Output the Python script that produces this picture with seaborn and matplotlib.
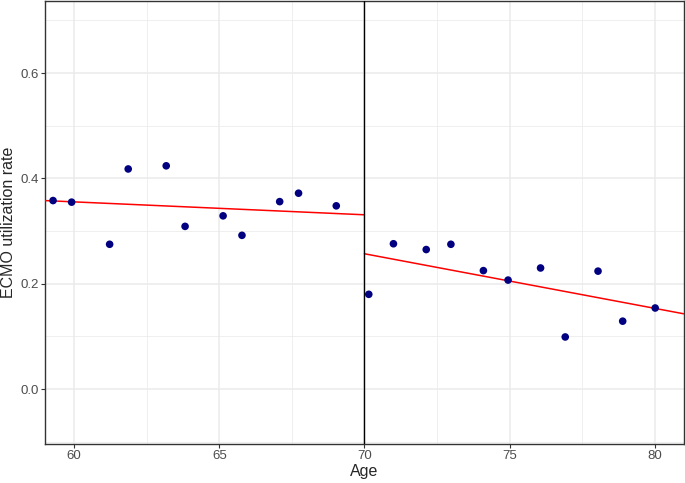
import numpy as np
import pandas as pd
import matplotlib.pyplot as plt
import seaborn as sns

# Data
age = [59.27, 59.91, 61.22, 61.86, 63.17, 63.82, 65.13, 65.78, 67.08, 67.73, 69.03,
       70.15, 71.0, 72.13, 72.98, 74.1, 74.95, 76.07, 76.92, 78.05, 78.9, 80.02]
rate = [0.358, 0.355, 0.275, 0.418, 0.424, 0.309, 0.329, 0.292, 0.356, 0.372, 0.348,
        0.180, 0.276, 0.265, 0.275, 0.225, 0.207, 0.230, 0.099, 0.224, 0.129, 0.154]
cutoff = 70

# fitted lines as shown in the reference: value at the cutoff and slope per year
fit_at_cutoff = [0.331, 0.257]
fit_slope = [-0.00245, -0.01036]

df = pd.DataFrame({'Age': age, 'rate': rate})

sns.set_style('ticks')
plt.rcParams['font.family'] = ['Liberation Sans', 'DejaVu Sans']

fig, ax = plt.subplots(figsize=(6.85, 4.83), dpi=100)
fig.subplots_adjust(left=0.066, right=0.998, top=0.998, bottom=0.081)

xlim = (59.0, 81.0)
ylim = (-0.104, 0.737)
ax.set_xlim(xlim)
ax.set_ylim(ylim)

# grid like ggplot theme_bw
ax.set_xticks([60, 65, 70, 75, 80])
ax.set_yticks([0.0, 0.2, 0.4, 0.6])
ax.set_xticks([62.5, 67.5, 72.5, 77.5], minor=True)
ax.set_yticks([-0.1, 0.1, 0.3, 0.5, 0.7], minor=True)
ax.grid(which='major', color='#ebebeb', linewidth=1.1)
ax.grid(which='minor', color='#ebebeb', linewidth=0.55)
ax.set_axisbelow(True)
ax.tick_params(which='minor', length=0)
ax.tick_params(which='major', length=2.75, width=0.8, color='#333333',
               labelsize=9.5, labelcolor='#4d4d4d', pad=2)
ax.set_yticklabels(['0.0', '0.2', '0.4', '0.6'])
for s in ax.spines.values():
    s.set_color('#333333')
    s.set_linewidth(1.0)

# regression line on each side of the cutoff
x1 = np.array([xlim[0], cutoff])
x2 = np.array([cutoff, xlim[1]])
ax.plot(x1, fit_at_cutoff[0] + fit_slope[0] * (x1 - cutoff), color='red', linewidth=1.1, zorder=3)
ax.plot(x2, fit_at_cutoff[1] + fit_slope[1] * (x2 - cutoff), color='red', linewidth=1.1, zorder=3)

ax.axvline(cutoff, color='black', linewidth=1.0, zorder=3)

sns.scatterplot(data=df, x='Age', y='rate', color='navy', s=30,
                edgecolor='none', ax=ax, zorder=4)

ax.set_xlabel('Age', fontsize=11.5, labelpad=1)
ax.set_ylabel('ECMO utilization rate', fontsize=11.5, labelpad=3)

plt.savefig('out.png', dpi=100)
